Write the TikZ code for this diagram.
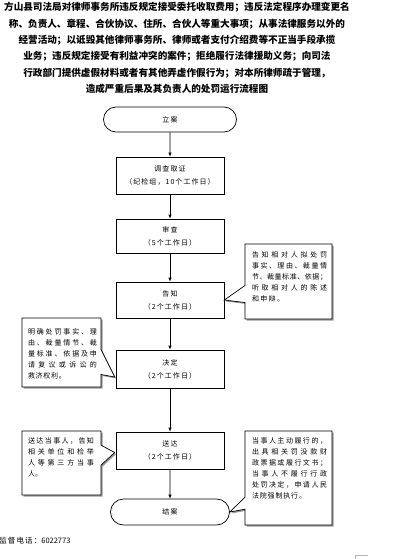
\documentclass[tikz,border=0pt]{standalone}
\usepackage{fontspec}
\usepackage{tikz}
\usetikzlibrary{arrows.meta,calc,positioning,shapes.misc,shapes.callouts,shadows}
\newfontfamily\cjk{Noto Sans CJK SC}
\newfontfamily\cjkwide{Noto Sans CJK SC}[LetterSpace=15]

% one line of a note, stretched to a given width
\newcommand\justline[2]{\hbox to #1{\spreadfirst#2\relax}}
\def\spreadfirst#1{#1\spreadnext}
\def\spreadnext#1{\ifx\relax#1\else\hfil#1\expandafter\spreadnext\fi}

\begin{document}
\begin{tikzpicture}[x=1pt, y=-1pt, line width=0.7pt,
  every node/.style={font=\cjkwide\fontsize{7}{13}\selectfont, align=center},
  stepbox/.style={draw, minimum width=108, minimum height=37, inner sep=2pt},
  endcap/.style={draw, rounded rectangle, minimum height=25, inner sep=2pt},
  note/.style={rectangle callout, draw, fill=white,
    drop shadow={shadow xshift=1.5pt, shadow yshift=-1.5pt, fill=gray!80, opacity=1}},
  notetext/.style={anchor=north west, inner sep=0pt, align=left,
    font=\cjk\fontsize{7}{11}\selectfont},
  flow/.style={-{Latex[length=4pt,width=3.5pt]}}]
\useasboundingbox (0,0) rectangle (405,559);

% --- title ---
\node[anchor=north, inner sep=0pt, font=\cjk\bfseries\fontsize{9.6}{16.4}\selectfont] (title) at (177,2)
  {方山县司法局对律师事务所违反规定接受委托收取费用；违反法定程序办理变更名\\
   称、负责人、章程、合伙协议、住所、合伙人等重大事项；从事法律服务以外的\\
   经营活动；以诋毁其他律师事务所、律师或者支付介绍费等不正当手段承揽\\
   业务；违反规定接受有利益冲突的案件；拒绝履行法律援助义务；向司法\\
   行政部门提供虚假材料或者有其他弄虚作假行为；对本所律师疏于管理，\\
   造成严重后果及其负责人的处罚运行流程图};

% --- main column ---
\node[endcap, minimum width=137] (lian) at (170,119.5) {立案};
\node[stepbox] (diaocha) at (170,175.5) {调查取证\\（纪检组，10个工作日）};
\node[stepbox, minimum height=34] (shencha) at (170,236) {审查\\（5个工作日）};
\node[stepbox, minimum height=36] (gaozhi) at (170,300) {告知\\（2个工作日）};
\node[stepbox, minimum height=38] (jueding) at (170,369) {决定\\（2个工作日）};
\node[stepbox] (songda) at (170,450.5) {送达\\（2个工作日）};
\node[endcap, minimum width=123, minimum height=26] (jiean) at (170,512) {结案};

\foreach \a/\b in {lian/diaocha, diaocha/shencha, shencha/gaozhi, gaozhi/jueding, jueding/songda, songda/jiean}
  \draw[flow] (\a) -- (\b);

% --- notes ---
\node[note, minimum width=87, minimum height=75, callout absolute pointer=(gaozhi.east),
  callout pointer width=17] (gaozhinote) at (288.5,281.5) {};
\node[notetext] (gaozhitext) at ($(gaozhinote.north west)+(7,7.5)$)
  {\justline{75pt}{告知相对人拟处罚}\\ \justline{75pt}{事实、理由、裁量情}\\
   \justline{75pt}{节、裁量标准、依据；}\\ \justline{75pt}{听取相对人的陈述}\\
   \justline{32pt}{和申辩。}};

\node[note, minimum width=79, minimum height=69, callout absolute pointer={($(jueding.west)+(-1,8)$)},
  callout pointer width=25] (juedingnote) at (61.5,352.5) {};
\node[notetext] (juedingtext) at ($(juedingnote.north west)+(6,10.5)$)
  {\justline{69pt}{明确处罚事实、理}\\ \justline{69pt}{由、裁量情节、裁}\\
   \justline{69pt}{量标准、依据及申}\\ \justline{69pt}{请复议或诉讼的}\\
   \justline{38pt}{救济权利。}};

\node[note, minimum width=79, minimum height=64, callout absolute pointer={($(songda.west)+(-1,2)$)},
  callout pointer width=20] (songdanote) at (61.5,463) {};
\node[notetext] (songdatext) at ($(songdanote.north west)+(6,6.5)$)
  {\justline{66pt}{送达当事人，告知}\\ \justline{66pt}{相关单位和检举}\\
   \justline{66pt}{人等第三方当事}\\ \justline{14pt}{人。}};

\node[note, minimum width=87, minimum height=94, callout absolute pointer=(jiean.east),
  callout pointer width=12] (jieannote) at (288.5,478) {};
\node[notetext] (jieantext) at ($(jieannote.north west)+(7,6.5)$)
  {\justline{75pt}{当事人主动履行的，}\\ \justline{75pt}{出具相关罚没款财}\\
   \justline{75pt}{政票据或履行文书；}\\ \justline{75pt}{当事人不履行行政}\\
   \justline{75pt}{处罚决定，申请人民}\\ \justline{54pt}{法院强制执行。}};

% --- footer ---
\node[anchor=west, inner sep=0pt, font=\cjkwide\fontsize{7.5}{9}\selectfont] (phone) at (-1,541)
  {监督电话：{\cjk 6022773}};
\draw[gray!60, line width=0.6] (355,559) -- (355,555) -- (368,555);

\end{tikzpicture}
\end{document}
